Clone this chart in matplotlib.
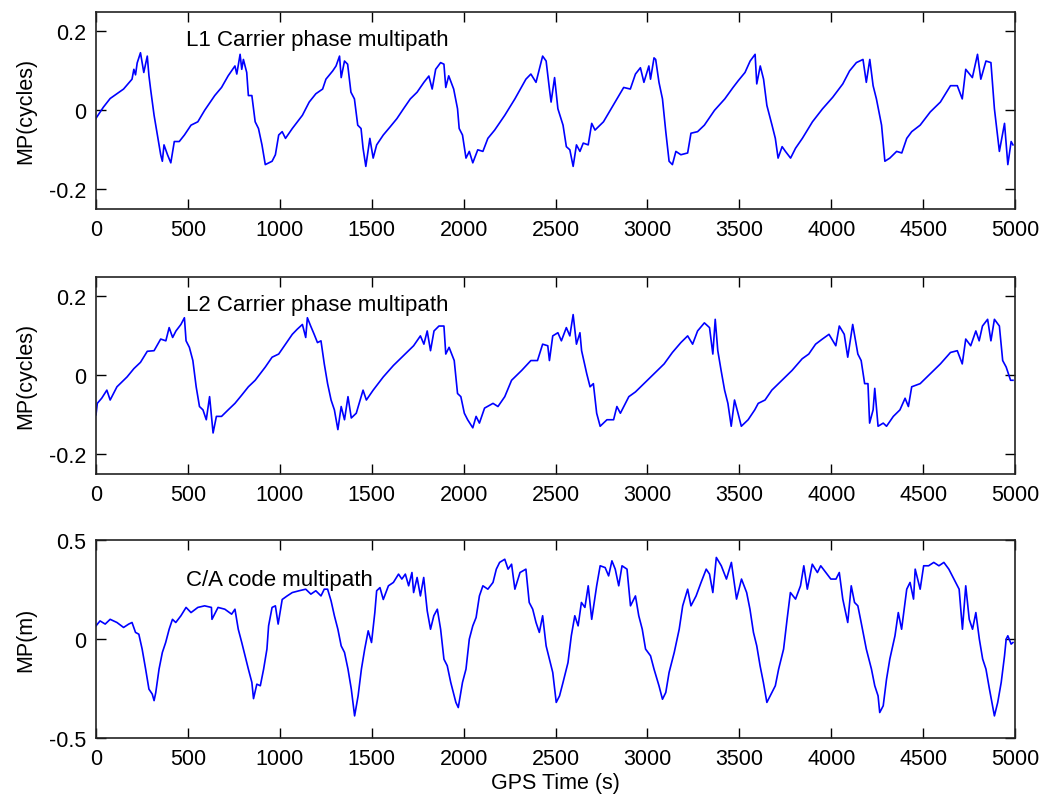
import matplotlib.pyplot as plt
import numpy as np

plt.rcParams["font.family"] = ["Liberation Sans", "DejaVu Sans"]

# L1 carrier phase multipath (cycles)
l1_t = [0, 40, 77, 114, 150, 196, 206, 215, 224, 242, 260, 279, 288, 297, 316, 334, 352, 361, 370, 389,
        407, 426, 453, 481, 517, 554, 591, 646, 683, 719, 756, 766, 784, 793, 802, 820, 829, 848, 866, 884,
        903, 921, 958, 976, 994, 1013, 1031, 1068, 1123, 1160, 1196, 1233, 1251, 1288, 1306, 1325, 1334, 1352, 1369, 1387,
        1406, 1424, 1442, 1453, 1468, 1490, 1508, 1527, 1563, 1600, 1637, 1673, 1710, 1747, 1784, 1811, 1829, 1848, 1875, 1893,
        1903, 1919, 1946, 1967, 1976, 1994, 2013, 2031, 2050, 2077, 2105, 2132, 2169, 2224, 2279, 2339, 2366, 2394, 2412, 2430,
        2449, 2467, 2476, 2495, 2513, 2541, 2559, 2578, 2596, 2614, 2633, 2651, 2678, 2697, 2715, 2761, 2834, 2871, 2907, 2935,
        2962, 2981, 3008, 3017, 3036, 3045, 3063, 3082, 3100, 3118, 3136, 3155, 3182, 3219, 3237, 3273, 3310, 3365, 3421, 3466,
        3494, 3531, 3559, 3586, 3595, 3614, 3632, 3650, 3678, 3696, 3711, 3733, 3751, 3779, 3806, 3843, 3898, 3953, 4008, 4063,
        4100, 4137, 4173, 4191, 4210, 4228, 4246, 4274, 4292, 4319, 4356, 4384, 4411, 4438, 4484, 4539, 4594, 4649, 4686, 4713,
        4732, 4768, 4796, 4814, 4842, 4869, 4888, 4915, 4943, 4961, 4979, 4989]
l1_v = [-0.02, 0.008, 0.03, 0.042, 0.054, 0.079, 0.104, 0.09, 0.12, 0.146, 0.096, 0.1375, 0.088, 0.054, -0.0125, -0.0625, -0.1125, -0.129, -0.0875, -0.1125,
        -0.133, -0.079, -0.079, -0.0625, -0.0375, -0.029, 0.0, 0.0375, 0.058, 0.0875, 0.1125, 0.092, 0.142, 0.104, 0.129, 0.096, 0.0375, 0.0375, -0.029, -0.046,
        -0.0875, -0.1375, -0.129, -0.1125, -0.0625, -0.054, -0.071, -0.046, -0.0125, 0.021, 0.042, 0.054, 0.079, 0.1, 0.1125, 0.1375, 0.083, 0.125, 0.117, 0.046,
        0.029, -0.0375, -0.046, -0.096, -0.142, -0.071, -0.121, -0.0875, -0.0625, -0.042, -0.021, 0.004, 0.029, 0.046, 0.071, 0.087, 0.054, 0.104, 0.121, 0.117,
        0.058, 0.0875, 0.054, 0.004, -0.046, -0.0625, -0.121, -0.104, -0.133, -0.1, -0.104, -0.071, -0.05, -0.0125, 0.029, 0.079, 0.092, 0.071, 0.104, 0.1375,
        0.125, 0.054, 0.021, 0.083, 0.004, -0.0375, -0.092, -0.1, -0.142, -0.0875, -0.104, -0.083, -0.0875, -0.033, -0.05, -0.029, 0.029, 0.058, 0.054, 0.092,
        0.108, 0.071, 0.1125, 0.079, 0.133, 0.129, 0.071, 0.029, -0.054, -0.129, -0.1375, -0.104, -0.1125, -0.108, -0.058, -0.054, -0.0375, 0.0, 0.029, 0.058,
        0.075, 0.096, 0.125, 0.142, 0.067, 0.1125, 0.079, 0.0125, -0.0375, -0.071, -0.121, -0.092, -0.104, -0.121, -0.096, -0.071, -0.029, 0.004, 0.033, 0.067,
        0.1, 0.121, 0.129, 0.071, 0.129, 0.0625, 0.029, -0.0375, -0.129, -0.121, -0.104, -0.108, -0.071, -0.054, -0.0375, -0.004, 0.021, 0.0625, 0.0625, 0.029,
        0.104, 0.083, 0.142, 0.079, 0.125, 0.121, 0.004, -0.104, -0.033, -0.1375, -0.079, -0.0875]

# L2 carrier phase multipath (cycles)
l2_t = [0, 7, 31, 59, 77, 114, 169, 206, 242, 279, 316, 352, 380, 398, 417, 435, 462, 481, 490, 508,
        527, 545, 563, 582, 600, 618, 637, 655, 683, 719, 756, 793, 829, 866, 921, 958, 994, 1031, 1068, 1095,
        1123, 1141, 1150, 1168, 1187, 1205, 1224, 1242, 1260, 1279, 1297, 1316, 1334, 1352, 1371, 1389, 1416, 1453, 1471, 1508,
        1563, 1618, 1673, 1728, 1765, 1784, 1802, 1820, 1839, 1866, 1893, 1903, 1921, 1949, 1967, 1985, 2004, 2022, 2050, 2068,
        2086, 2114, 2160, 2187, 2224, 2261, 2316, 2366, 2402, 2430, 2458, 2467, 2485, 2513, 2532, 2559, 2578, 2596, 2614, 2633,
        2642, 2670, 2688, 2706, 2724, 2743, 2780, 2816, 2834, 2853, 2899, 2935, 2981, 3036, 3091, 3136, 3182, 3219, 3246, 3273,
        3310, 3338, 3356, 3369, 3383, 3401, 3420, 3438, 3456, 3474, 3493, 3511, 3548, 3584, 3603, 3640, 3677, 3732, 3787, 3842,
        3878, 3915, 3952, 3988, 4025, 4044, 4071, 4090, 4117, 4145, 4163, 4182, 4200, 4209, 4228, 4237, 4255, 4283, 4301, 4338,
        4374, 4402, 4420, 4438, 4484, 4539, 4594, 4649, 4686, 4713, 4732, 4759, 4787, 4805, 4823, 4851, 4869, 4888, 4915, 4933,
        4952, 4976, 4989]
l2_v = [-0.1, -0.071, -0.058, -0.0375, -0.0625, -0.029, -0.004, 0.017, 0.033, 0.061, 0.0625, 0.092, 0.0875, 0.121, 0.096, 0.1125, 0.129, 0.146, 0.0875, 0.071,
        0.0375, -0.029, -0.079, -0.0875, -0.1125, -0.054, -0.146, -0.104, -0.104, -0.0875, -0.071, -0.05, -0.029, -0.0125, 0.021, 0.046, 0.054, 0.079, 0.104, 0.117,
        0.129, 0.096, 0.146, 0.125, 0.104, 0.083, 0.0875, 0.029, -0.021, -0.0625, -0.0875, -0.1375, -0.079, -0.1125, -0.054, -0.108, -0.096, -0.0375, -0.0625, -0.0375,
        -0.004, 0.025, 0.05, 0.075, 0.1, 0.079, 0.1125, 0.0625, 0.1125, 0.125, 0.125, 0.054, 0.071, 0.0375, -0.046, -0.054, -0.096, -0.1125, -0.133, -0.104,
        -0.121, -0.083, -0.071, -0.079, -0.054, -0.0125, 0.0125, 0.0375, 0.0375, 0.079, 0.075, 0.0375, 0.1, 0.108, 0.0875, 0.121, 0.1, 0.154, 0.079, 0.108,
        0.0625, 0.004, -0.029, -0.021, -0.096, -0.129, -0.1125, -0.1125, -0.079, -0.096, -0.054, -0.042, -0.021, 0.004, 0.029, 0.058, 0.083, 0.1, 0.079, 0.1125,
        0.133, 0.121, 0.054, 0.142, 0.0625, 0.0125, -0.0375, -0.071, -0.129, -0.0625, -0.096, -0.129, -0.1125, -0.0875, -0.071, -0.0625, -0.0375, -0.0125, 0.0125, 0.042,
        0.054, 0.079, 0.092, 0.104, 0.075, 0.125, 0.104, 0.046, 0.129, 0.054, 0.0375, -0.021, -0.021, -0.121, -0.0875, -0.033, -0.129, -0.121, -0.129, -0.104,
        -0.0875, -0.058, -0.079, -0.029, -0.021, 0.004, 0.029, 0.058, 0.0625, 0.029, 0.092, 0.075, 0.1125, 0.0875, 0.125, 0.142, 0.0875, 0.142, 0.125, 0.0375,
        0.021, -0.0125, -0.0125]

# C/A code multipath (m)
ca_t = [0, 22, 50, 77, 114, 150, 178, 196, 215, 233, 251, 270, 288, 306, 316, 325, 343, 361, 379, 398,
        416, 434, 462, 490, 517, 554, 591, 628, 631, 664, 701, 738, 756, 774, 793, 811, 829, 848, 857, 875,
        894, 912, 930, 939, 958, 976, 991, 1013, 1040, 1068, 1105, 1141, 1169, 1196, 1224, 1242, 1260, 1279, 1297, 1316,
        1334, 1352, 1371, 1389, 1407, 1426, 1444, 1462, 1481, 1499, 1517, 1527, 1545, 1563, 1591, 1618, 1646, 1664, 1683, 1701,
        1719, 1728, 1747, 1765, 1783, 1802, 1820, 1838, 1857, 1875, 1893, 1911, 1930, 1958, 1971, 1994, 2013, 2031, 2050, 2068,
        2086, 2105, 2132, 2160, 2178, 2196, 2224, 2242, 2261, 2279, 2307, 2339, 2357, 2376, 2394, 2412, 2430, 2449, 2467, 2485,
        2504, 2522, 2541, 2568, 2586, 2605, 2623, 2641, 2660, 2678, 2697, 2724, 2743, 2770, 2789, 2807, 2825, 2844, 2862, 2889,
        2908, 2935, 2953, 2972, 2990, 3017, 3036, 3063, 3082, 3100, 3118, 3146, 3173, 3192, 3219, 3237, 3265, 3292, 3320, 3338,
        3356, 3375, 3402, 3430, 3457, 3485, 3512, 3540, 3558, 3577, 3595, 3613, 3631, 3650, 3677, 3696, 3714, 3741, 3760, 3778,
        3806, 3833, 3851, 3870, 3897, 3925, 3943, 3971, 3998, 4026, 4044, 4063, 4090, 4109, 4127, 4145, 4163, 4191, 4219, 4237,
        4255, 4264, 4283, 4301, 4319, 4347, 4365, 4383, 4411, 4429, 4448, 4457, 4484, 4503, 4530, 4558, 4586, 4613, 4640, 4668,
        4696, 4714, 4732, 4751, 4769, 4787, 4806, 4824, 4842, 4861, 4888, 4906, 4925, 4943, 4952, 4961, 4979, 4989]
ca_v = [0.067, 0.092, 0.076, 0.1, 0.084, 0.059, 0.076, 0.084, 0.034, 0.025, -0.05, -0.151, -0.252, -0.277, -0.31, -0.27, -0.151, -0.067, -0.017, 0.05,
        0.1, 0.084, 0.118, 0.16, 0.134, 0.16, 0.168, 0.16, 0.1, 0.16, 0.151, 0.126, 0.151, 0.05, -0.017, -0.084, -0.151, -0.218, -0.3, -0.227,
        -0.235, -0.151, -0.05, 0.067, 0.16, 0.168, 0.076, 0.2, 0.218, 0.235, 0.244, 0.252, 0.227, 0.244, 0.218, 0.252, 0.252, 0.193, 0.118, 0.05,
        -0.034, -0.067, -0.151, -0.252, -0.387, -0.286, -0.151, -0.05, 0.042, -0.017, 0.134, 0.244, 0.26, 0.2, 0.269, 0.286, 0.328, 0.303, 0.328, 0.269,
        0.336, 0.235, 0.311, 0.218, 0.311, 0.143, 0.05, 0.118, 0.151, 0.05, -0.101, -0.134, -0.218, -0.319, -0.345, -0.218, -0.151, 0.0, 0.067, 0.109,
        0.218, 0.269, 0.252, 0.286, 0.353, 0.387, 0.403, 0.353, 0.378, 0.252, 0.336, 0.353, 0.185, 0.151, 0.084, 0.034, 0.118, -0.034, -0.1, -0.168,
        -0.319, -0.286, -0.218, -0.118, 0.017, 0.118, 0.067, 0.185, 0.16, 0.269, 0.1, 0.269, 0.37, 0.361, 0.319, 0.395, 0.353, 0.269, 0.37, 0.353,
        0.168, 0.218, 0.118, 0.05, -0.05, -0.084, -0.151, -0.235, -0.303, -0.269, -0.168, -0.067, 0.05, 0.168, 0.252, 0.168, 0.218, 0.286, 0.353, 0.328,
        0.235, 0.412, 0.37, 0.303, 0.387, 0.202, 0.303, 0.235, 0.151, 0.034, -0.034, -0.134, -0.218, -0.319, -0.269, -0.235, -0.151, -0.05, 0.1, 0.235,
        0.202, 0.269, 0.37, 0.252, 0.378, 0.336, 0.37, 0.336, 0.303, 0.303, 0.336, 0.202, 0.084, 0.269, 0.185, 0.168, 0.084, -0.05, -0.151, -0.235,
        -0.286, -0.37, -0.336, -0.202, -0.1, 0.017, 0.134, 0.05, 0.252, 0.286, 0.202, 0.353, 0.252, 0.37, 0.37, 0.387, 0.37, 0.387, 0.353, 0.303,
        0.252, 0.05, 0.269, 0.1, 0.05, 0.134, 0.0, -0.1, -0.151, -0.252, -0.387, -0.319, -0.218, -0.084, 0.0, 0.017, -0.025, -0.017]

panels = [
    (l1_t, l1_v, "L1 Carrier phase multipath", "MP(cycles)", (-0.25, 0.25), [-0.2, 0, 0.2], 0.18),
    (l2_t, l2_v, "L2 Carrier phase multipath", "MP(cycles)", (-0.25, 0.25), [-0.2, 0, 0.2], 0.18),
    (ca_t, ca_v, "C/A code multipath", "MP(m)", (-0.5, 0.5), [-0.5, 0, 0.5], 0.30),
]

W, H = 1049, 803
left, right = 96, 1015
tops = [12.7, 277.7, 541]
bottoms = [210, 475, 739.3]

fig = plt.figure(figsize=(W / 100, H / 100), dpi=100)
fs = 15.5

for i, (t, v, title, ylab, ylim, yticks, ty) in enumerate(panels):
    ax = fig.add_axes([left / W, 1 - bottoms[i] / H, (right - left) / W, (bottoms[i] - tops[i]) / H])
    ax.plot(t, v, color="#0000ff", lw=1.2)
    ax.set_xlim(0, 5000)
    ax.set_ylim(*ylim)
    ax.set_xticks(np.arange(0, 5001, 500))
    ax.set_yticks(yticks)
    ax.set_yticklabels(["%g" % y for y in yticks])
    ax.tick_params(direction="in", length=7, width=1, top=True, right=True, labelsize=fs, pad=7)
    for s in ax.spines.values():
        s.set_linewidth(1.2)
        s.set_color("#222222")
    ax.text(490, ty, title, fontsize=16, ha="left", va="center")
    ax.set_ylabel(ylab, fontsize=fs, labelpad=9)
    if i == 2:
        ax.set_xlabel("GPS Time (s)", fontsize=fs, labelpad=2)

fig.savefig("out.png", dpi=100)
